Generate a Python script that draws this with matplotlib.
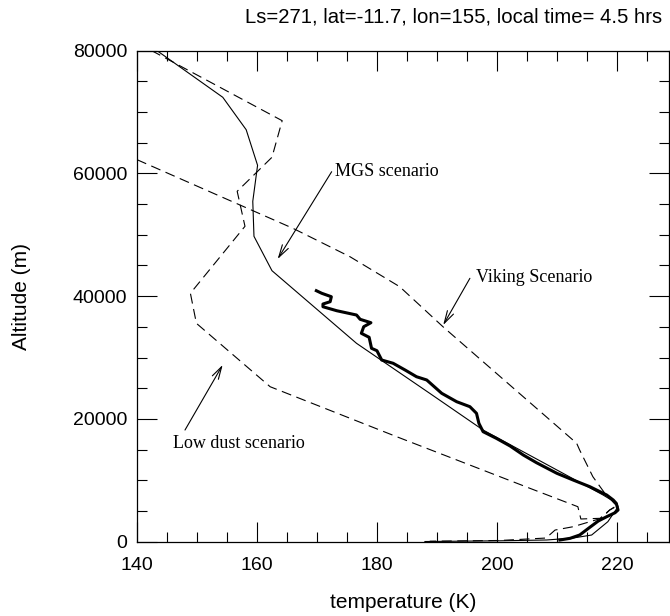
import matplotlib
matplotlib.use('Agg')
import matplotlib.pyplot as plt
from matplotlib.ticker import MultipleLocator

plt.rcParams['font.family'] = ['Liberation Sans', 'DejaVu Sans']

# MGS scenario (thin solid)
mgs_t = [143.3, 154.3, 158.2, 160.1, 159.3, 159.5, 162.5, 176.6, 188.8, 197.7,
         217.7, 220.0, 220.2, 218.5, 215.8, 212.7, 208.3, 200.5, 188.0]
mgs_z = [80000, 72380, 67100, 61300, 55440, 49740, 44140, 32310, 24170, 18190,
         7610, 6250, 5700, 3260, 1090, 600, 280, 150, 30]

# low dust scenario (dashed)
low_t = [142.4, 164.2, 162.5, 156.7, 158.0, 148.9, 149.9, 162.2, 183.3, 205.5,
         213.5, 214.0, 217.2, 218.8, 220.0]
low_z = [80000, 68570, 62610, 57070, 51370, 40460, 35570, 25240, 17100, 8700,
         5700, 3700, 3810, 5160, 5900]

# Viking scenario (dashed)
vik_t = [140.0, 166.0, 175.5, 183.8, 191.0, 213.3, 213.8, 216.0, 218.0, 220.0,
         218.8, 217.4, 212.7, 209.7, 208.2, 200.5, 188.8]
vik_z = [62220, 51040, 46420, 41530, 35020, 16030, 14930, 10590, 7880, 5800,
         5160, 3810, 2440, 1900, 600, 200, 80]

# observed profile (thick)
obs_t = [169.9, 170.8, 172.4, 172.2, 171.0, 171.0, 173.3, 176.6, 177.2, 179.0,
         177.8, 177.4, 178.7, 179.1, 180.0, 180.8, 182.7, 184.7, 186.6, 188.3,
         190.8, 193.3, 195.5, 196.6, 197.0, 197.7, 199.9, 202.2, 204.4, 206.6,
         210.0, 212.7, 215.5, 218.3, 219.4, 219.9, 220.2, 219.7, 218.3, 216.9,
         215.5, 213.8, 212.2, 210.5]
obs_z = [40880, 40460, 39900, 39090, 38710, 38270, 37620, 36920, 36220, 35670,
         35020, 33940, 33290, 31500, 31110, 29590, 29060, 27960, 26870, 26340,
         24170, 22800, 21990, 20910, 19280, 17920, 16840, 15590, 14120, 12870,
         11140, 10050, 8960, 7610, 6790, 6250, 5160, 4720, 4070, 3370,
         2350, 1090, 550, 280]

fig = plt.figure(figsize=(6.7, 6.16), dpi=100)
ax = fig.add_axes([0.2045, 0.1206, 0.7945, 0.7974])

ax.plot(mgs_t, mgs_z, color='black', lw=0.8)
ax.plot(low_t, low_z, color='black', lw=0.8, dashes=(9, 5))
ax.plot(vik_t, vik_z, color='black', lw=0.8, dashes=(9, 5))
ax.plot(obs_t, obs_z, color='black', lw=2.2, solid_joinstyle='round')

ax.set_xlim(140, 228.75)
ax.set_ylim(0, 80000)
ax.xaxis.set_major_locator(MultipleLocator(20))
ax.xaxis.set_minor_locator(MultipleLocator(5))
ax.yaxis.set_major_locator(MultipleLocator(20000))
ax.yaxis.set_minor_locator(MultipleLocator(5000))
ax.tick_params(which='both', direction='in', top=True, right=True, width=0.8)
ax.tick_params(which='major', length=14.5)
ax.tick_params(which='minor', length=7.2)
ax.tick_params(axis='x', which='major', labelsize=14, pad=11)
ax.tick_params(axis='y', which='major', labelsize=14, pad=7)
for s in ax.spines.values():
    s.set_linewidth(0.9)

ax.set_xlabel('temperature (K)', fontsize=15, labelpad=14)
ax.set_ylabel('Altitude (m)', fontsize=15, labelpad=30)
# title sits right of the axes centre in the original (plot was cropped)
fig.text(454 / 670, 1 - 17 / 616, 'Ls=271, lat=-11.7, lon=155, local time= 4.5 hrs',
         fontsize=14.6, ha='center', va='center')

aprops = dict(arrowstyle='->,head_length=0.9,head_width=0.25', color='black',
              lw=0.8, shrinkA=0, shrinkB=0)
ax.annotate('', xy=(163.45, 46040), xytext=(172.45, 60260), arrowprops=aprops)
ax.annotate('', xy=(191.05, 35290), xytext=(195.5, 42900), arrowprops=aprops)
ax.annotate('', xy=(154.28, 28790), xytext=(148.0, 18190), arrowprops=aprops)
ax.text(173.0, 60260, 'MGS scenario', family='Liberation Serif', fontsize=13, va='center')
ax.text(196.5, 42950, 'Viking Scenario', family='Liberation Serif', fontsize=13, va='center')
ax.text(146.05, 16075, 'Low dust scenario', family='Liberation Serif', fontsize=13, va='center')

fig.savefig('out.png', dpi=100)
